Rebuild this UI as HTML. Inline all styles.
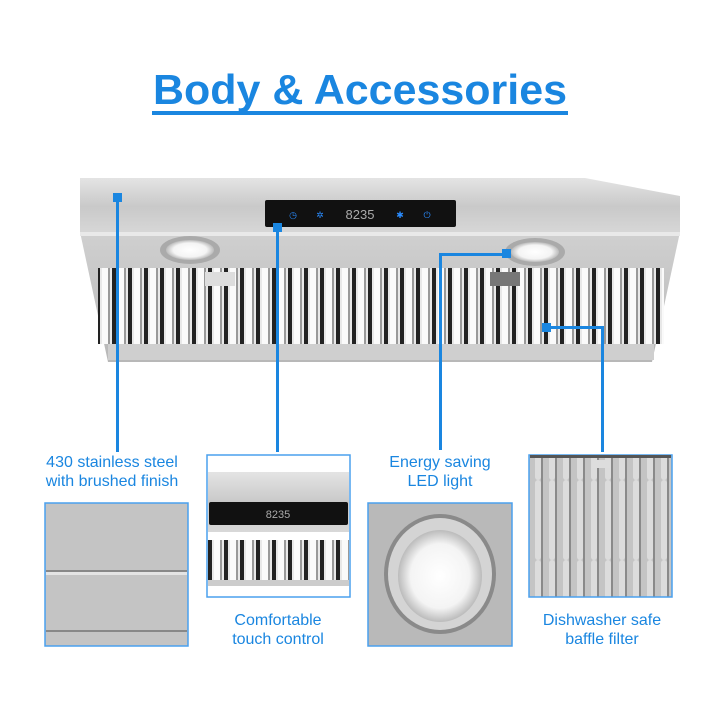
<!DOCTYPE html>
<html><head><style>
html,body{margin:0;padding:0;background:#fff;}
svg{display:block;}
text{font-family:"Liberation Sans",Arial,sans-serif;fill:#1a86e0;}
</style></head><body>
<svg width="720" height="720" viewBox="0 0 720 720" xmlns="http://www.w3.org/2000/svg">
<defs>
<linearGradient id="band" x1="0" y1="0" x2="0" y2="1">
<stop offset="0" stop-color="#e4e4e4"/><stop offset="0.5" stop-color="#c9c9c9"/><stop offset="1" stop-color="#d8d8d8"/></linearGradient>
<linearGradient id="low" x1="0" y1="0" x2="0" y2="1">
<stop offset="0" stop-color="#d0d0d0"/><stop offset="1" stop-color="#b8b8b8"/></linearGradient>
<pattern id="baf" width="16" height="80" patternUnits="userSpaceOnUse">
<rect width="16" height="80" fill="#e8e8e8"/><rect x="0" width="4" height="80" fill="#222"/><rect x="6" width="6" height="80" fill="#fafafa"/><rect x="12" width="2" height="80" fill="#999"/></pattern>
<pattern id="baf2" width="14" height="80" patternUnits="userSpaceOnUse">
<rect width="14" height="80" fill="#c4c4c4"/><rect x="3" width="6" height="80" fill="#dcdcdc" rx="3"/><rect x="9" width="2" height="80" fill="#8a8a8a"/></pattern>
<radialGradient id="led"><stop offset="0" stop-color="#fff"/><stop offset="0.7" stop-color="#f4f4f4"/><stop offset="1" stop-color="#bbb"/></radialGradient>
</defs>

<text x="360" y="104" font-size="42" font-weight="bold" text-anchor="middle" textLength="414" lengthAdjust="spacingAndGlyphs">Body &amp; Accessories</text>
<rect x="152" y="111" width="416" height="4" fill="#1a86e0"/>

<!-- hood -->
<polygon points="80,232 680,232 652,362 108,362" fill="url(#low)"/>
<polygon points="80,178 585,178 680,196 680,235 80,235" fill="url(#band)"/>
<rect x="80" y="232" width="600" height="4" fill="#e9e9e9"/>
<rect x="98" y="268" width="566" height="76" fill="url(#baf)"/>
<rect x="108" y="344" width="546" height="16" fill="#cfcfcf"/>
<ellipse cx="190" cy="250" rx="30" ry="14" fill="#aaa"/>
<ellipse cx="190" cy="250" rx="24" ry="10" fill="url(#led)"/>
<ellipse cx="535" cy="252" rx="30" ry="14" fill="#aaa"/>
<ellipse cx="535" cy="252" rx="24" ry="10" fill="url(#led)"/>
<rect x="205" y="272" width="30" height="14" fill="#ddd"/>
<rect x="490" y="272" width="30" height="14" fill="#777"/>
<rect x="265" y="200" width="191" height="27" fill="#111" rx="2"/>
<text x="293" y="218" font-size="9" text-anchor="middle" style="fill:#2a8cff">◷</text>
<text x="320" y="218" font-size="9" text-anchor="middle" style="fill:#2a8cff">✲</text>
<text x="360" y="219" font-size="13" text-anchor="middle" style="fill:#aaa">8235</text>
<text x="400" y="218" font-size="9" text-anchor="middle" style="fill:#2a8cff">✱</text>
<text x="427" y="218" font-size="9" text-anchor="middle" style="fill:#2a8cff">⏻</text>

<!-- callouts -->
<g fill="#1a86e0">
<rect x="113" y="193" width="9" height="9"/><rect x="116" y="200" width="3" height="252"/>
<rect x="273" y="223" width="9" height="9"/><rect x="276" y="230" width="3" height="222"/>
<rect x="502" y="249" width="9" height="9"/><rect x="439" y="253" width="68" height="3"/><rect x="439" y="253" width="3" height="197"/>
<rect x="542" y="323" width="9" height="9"/><rect x="546" y="326" width="58" height="3"/><rect x="601" y="326" width="3" height="126"/>
</g>

<g font-size="16" text-anchor="middle">
<text x="112" y="467">430 stainless steel</text>
<text x="112" y="486">with brushed finish</text>
<text x="440" y="467">Energy saving</text>
<text x="440" y="486">LED light</text>
<text x="278" y="625">Comfortable</text>
<text x="278" y="644">touch control</text>
<text x="602" y="625">Dishwasher safe</text>
<text x="602" y="644">baffle filter</text>
</g>

<!-- steel box -->
<rect x="45" y="503" width="143" height="143" fill="#c4c4c4" stroke="#4aa0ee" stroke-width="1.5"/>
<rect x="46" y="570" width="141" height="2" fill="#888"/>
<rect x="46" y="572" width="141" height="3" fill="#e4e4e4"/>
<rect x="46" y="630" width="141" height="2" fill="#888"/>

<!-- touch box -->
<rect x="207" y="455" width="143" height="142" fill="#fff" stroke="#4aa0ee" stroke-width="1.5"/>
<rect x="208" y="472" width="141" height="60" fill="url(#band)"/>
<rect x="209" y="502" width="139" height="23" fill="#111" rx="2"/>
<text x="278" y="518" font-size="11" text-anchor="middle" style="fill:#aaa">8235</text>
<rect x="208" y="540" width="141" height="40" fill="url(#baf)"/>
<rect x="208" y="580" width="141" height="6" fill="#ccc"/>

<!-- LED box -->
<rect x="368" y="503" width="144" height="143" fill="#b9b9b9" stroke="#4aa0ee" stroke-width="1.5"/>
<ellipse cx="440" cy="574" rx="56" ry="60" fill="#8a8a8a"/>
<ellipse cx="440" cy="574" rx="52" ry="56" fill="#d4d4d4"/>
<ellipse cx="440" cy="576" rx="42" ry="46" fill="url(#led)"/>

<!-- filter box -->
<rect x="529" y="455" width="143" height="142" fill="url(#baf2)" stroke="#4aa0ee" stroke-width="1.5"/>
<rect x="530" y="455" width="141" height="3" fill="#555"/>
<rect x="592" y="460" width="18" height="8" fill="#ddd"/>
</svg>
</body></html>
